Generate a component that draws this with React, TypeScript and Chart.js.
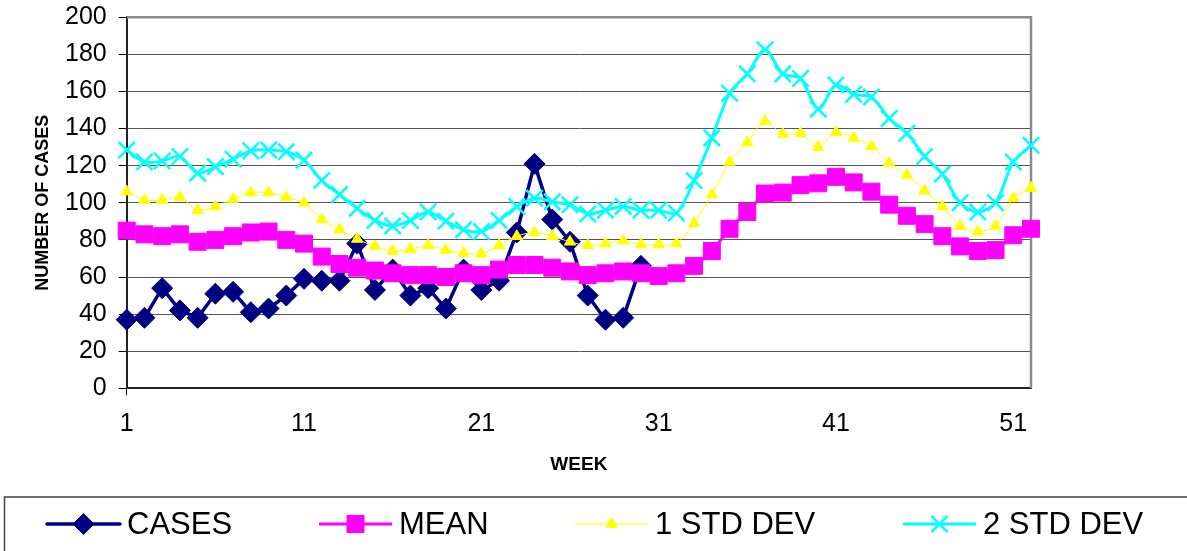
import React, { useEffect, useRef } from 'react';
import { Chart, registerables } from 'chart.js';
import { drawPoint } from 'chart.js/helpers';

Chart.register(...registerables);

// ---------- data ----------
const WEEKS = [
  '1', '2', '3', '4', '5', '6', '7', '8', '9', '10',
  '11', '12', '13', '14', '15', '16', '17', '18', '19', '20',
  '21', '22', '23', '24', '25', '26', '27', '28', '29', '30',
  '31', '32', '33', '34', '35', '36', '37', '38', '39', '40',
  '41', '42', '43', '44', '45', '46', '47', '48', '49', '50',
  '51', '52',
];
const TICK_LABELS = ['1', '11', '21', '31', '41', '51'];

const CASES = [
  37, 38, 54, 42, 38, 51, 52, 41, 43, 50,
  59, 58, 58, 78, 53, 64, 50, 54, 43, 64,
  53, 58, 84, 121, 91, 79, 50, 37, 38, 66,
  null, null, null, null, null, null, null, null, null, null,
  null, null, null, null, null, null, null, null, null, null,
  null, null,
];
const MEAN = [
  85, 83, 82, 83, 79, 80, 82, 84, 84.5, 80,
  78, 71, 67, 65, 63.5, 62, 61, 61, 60, 62,
  61, 64, 66.5, 66.5, 65, 63, 61, 62, 63, 62,
  60.5, 62, 66, 74, 86, 95, 105, 105.5, 109.5, 110.5,
  114, 111, 106, 99, 93, 88.5, 82, 76.5, 74, 74.5,
  82.5, 86,
];
const STD1 = [
  106, 101.5, 101.5, 103, 96, 98, 102, 105.5, 105.5, 103,
  100, 91, 85.5, 80.5, 76.5, 74, 75, 77, 74.5, 73,
  72.5, 77, 82, 84, 82, 79, 77, 78, 79.5, 77.5,
  77.5, 78, 89, 104.5, 122, 132.5, 144, 137, 137.5, 130,
  138, 135, 130.5, 121.5, 115, 106.5, 98, 87.5, 84.5, 87.5,
  102.5, 108,
];
const STD2 = [
  128.5, 122, 122.5, 125, 116, 119.5, 123.5, 128, 128.5, 127.5,
  123, 112, 104.5, 97, 90.5, 87.5, 90.5, 95, 90, 85.5,
  84.5, 90.5, 98, 102.5, 100.5, 99, 94, 96, 98, 96,
  96, 94.5, 112, 135, 159, 169.5, 182.5, 169.5, 167, 150.5,
  163.5, 158.5, 157, 145.5, 137.5, 125, 115.5, 100, 95, 100,
  122, 131,
];

const Y_MIN = 0;
const Y_MAX = 200;
const Y_STEP = 20;

// ---------- styles / layout ----------
const FONT = "'Liberation Sans', Arial, Helvetica, sans-serif";
const NAVY = '#000080';
const MAGENTA = '#FF00FF';
const YELLOW = '#FFFF00';
const CYAN = '#00FFFF';

const W = 1187;
const H = 551;

const LEGEND_LINE_X = [47, 319, 575, 903];
const LEGEND_LINE_LEN = 73;
const LEGEND_TEXT_GAP = 7;
const LEGEND_Y = 524;
const LEGEND_BOX_TOP = 497;
const LEGEND_BOX_LEFT = 4.5;
const LEGEND_FONT_SIZE = 31;

const plotBorderPlugin = {
  id: 'plotBorder',
  beforeDatasetsDraw(chart: any) {
    const { ctx, chartArea } = chart;
    ctx.save();
    ctx.strokeStyle = '#8c8c8c';
    ctx.lineWidth = 2.5;
    ctx.beginPath();
    ctx.moveTo(chartArea.left, chartArea.top);
    ctx.lineTo(chartArea.right, chartArea.top);
    ctx.lineTo(chartArea.right, chartArea.bottom);
    ctx.stroke();
    ctx.restore();
  },
};

const boxLegendPlugin = {
  id: 'boxLegend',
  afterDraw(chart: any) {
    const { ctx } = chart;
    ctx.save();
    ctx.strokeStyle = '#404040';
    ctx.lineWidth = 1.5;
    ctx.strokeRect(LEGEND_BOX_LEFT, LEGEND_BOX_TOP, W + 20, 100);

    chart.data.datasets.forEach((ds: any, i: number) => {
      const x0 = LEGEND_LINE_X[i];
      const x1 = x0 + LEGEND_LINE_LEN;
      const cx = (x0 + x1) / 2;
      ctx.save();
      ctx.strokeStyle = ds.borderColor;
      ctx.lineWidth = ds.borderWidth;
      ctx.lineCap = ds.borderCapStyle || 'butt';
      ctx.beginPath();
      ctx.moveTo(x0, LEGEND_Y);
      ctx.lineTo(x1, LEGEND_Y);
      ctx.stroke();
      ctx.fillStyle = ds.pointBackgroundColor;
      ctx.strokeStyle = ds.pointBorderColor;
      ctx.lineWidth = ds.pointBorderWidth;
      ctx.lineCap = 'butt';
      drawPoint(ctx, {
        pointStyle: ds.pointStyle,
        radius: ds.pointRadius,
        borderWidth: ds.pointBorderWidth,
        rotation: 0,
      } as any, cx, LEGEND_Y);
      ctx.restore();

      ctx.fillStyle = '#000';
      ctx.font = `${LEGEND_FONT_SIZE}px ${FONT}`;
      ctx.textBaseline = 'middle';
      ctx.textAlign = 'left';
      ctx.fillText(ds.label, x1 + LEGEND_TEXT_GAP, LEGEND_Y + 1);
    });
    ctx.restore();
  },
};

export default function App() {
  const canvasRef = useRef<HTMLCanvasElement | null>(null);

  useEffect(() => {
    if (!canvasRef.current) return;
    const chart = new Chart(canvasRef.current, {
      type: 'line',
      data: {
        labels: WEEKS,
        datasets: [
          {
            label: 'CASES',
            data: CASES,
            borderColor: NAVY,
            backgroundColor: NAVY,
            borderWidth: 3.5,
            borderCapStyle: 'round',
            borderJoinStyle: 'round',
            pointStyle: 'rectRot',
            pointRadius: 10.5,
            pointBorderWidth: 1,
            pointBackgroundColor: NAVY,
            pointBorderColor: NAVY,
            tension: 0,
            order: 4,
            clip: false,
            spanGaps: false,
          },
          {
            label: 'MEAN',
            data: MEAN,
            borderColor: MAGENTA,
            backgroundColor: MAGENTA,
            borderWidth: 3,
            pointStyle: 'rect',
            pointRadius: 12,
            pointBorderWidth: 1,
            pointBackgroundColor: MAGENTA,
            pointBorderColor: MAGENTA,
            tension: 0.2,
            order: 3,
            clip: false,
          },
          {
            label: '1 STD DEV',
            data: STD1,
            borderColor: YELLOW,
            backgroundColor: YELLOW,
            borderWidth: 1,
            pointStyle: 'triangle',
            pointRadius: 6.5,
            pointBorderWidth: 1,
            pointBackgroundColor: YELLOW,
            pointBorderColor: YELLOW,
            tension: 0.3,
            order: 2,
            clip: false,
          },
          {
            label: '2 STD DEV',
            data: STD2,
            borderColor: CYAN,
            backgroundColor: CYAN,
            borderWidth: 3,
            pointStyle: 'crossRot',
            pointRadius: 11.5,
            pointBorderWidth: 2.5,
            pointBackgroundColor: CYAN,
            pointBorderColor: CYAN,
            tension: 0.3,
            order: 1,
            clip: false,
          },
        ],
      },
      options: {
        animation: false,
        responsive: false,
        maintainAspectRatio: false,
        layout: { padding: { left: 0, top: 17.3, right: 156, bottom: 74.6 } },
        plugins: {
          legend: { display: false },
          tooltip: { enabled: false },
        },
        scales: {
          x: {
            type: 'category',
            offset: false,
            grid: {
              display: true,
              drawOnChartArea: false,
              drawTicks: true,
              tickLength: 7,
              tickWidth: 1,
              tickColor: (c: any) =>
                TICK_LABELS.includes(WEEKS[c.index]) ? '#000' : 'rgba(0,0,0,0)',
            },
            border: { display: true, color: '#222', width: 2 },
            ticks: {
              autoSkip: false,
              maxRotation: 0,
              minRotation: 0,
              padding: 13.5,
              color: '#000',
              font: { size: 25, family: FONT },
              callback: (_v: any, index: number) =>
                TICK_LABELS.includes(WEEKS[index]) ? WEEKS[index] : null,
            },
            title: {
              display: true,
              text: 'WEEK',
              color: '#000',
              font: { size: 19, weight: 'bold', family: FONT },
              padding: { top: 0, bottom: 0 },
            },
            afterFit: (s: any) => {
              s.height = 88.1;
              s.paddingLeft = 0;
              s.paddingRight = 0;
            },
          },
          y: {
            min: Y_MIN,
            max: Y_MAX,
            ticks: {
              stepSize: Y_STEP,
              padding: 12,
              color: '#000',
              font: { size: 25, family: FONT },
            },
            grid: {
              color: '#555',
              lineWidth: 1,
              tickLength: 8,
              tickColor: '#000',
              drawTicks: true,
            },
            border: { display: true, color: '#222', width: 2 },
            title: {
              display: true,
              text: 'NUMBER OF CASES',
              color: '#000',
              font: { size: 18, weight: 'bold', family: FONT },
              padding: { top: 32.5, bottom: 0 },
            },
            afterFit: (s: any) => {
              s.width = 126.7;
              s.paddingTop = 0;
              s.paddingBottom = 0;
            },
          },
        },
      } as any,
      plugins: [plotBorderPlugin, boxLegendPlugin],
    });
    return () => chart.destroy();
  }, []);

  return (
    <div style={{ position: 'absolute', left: 0, top: 0, width: W, height: H, background: '#fff' }}>
      <canvas ref={canvasRef} width={W} height={H} style={{ display: 'block', width: W, height: H }} />
    </div>
  );
}
